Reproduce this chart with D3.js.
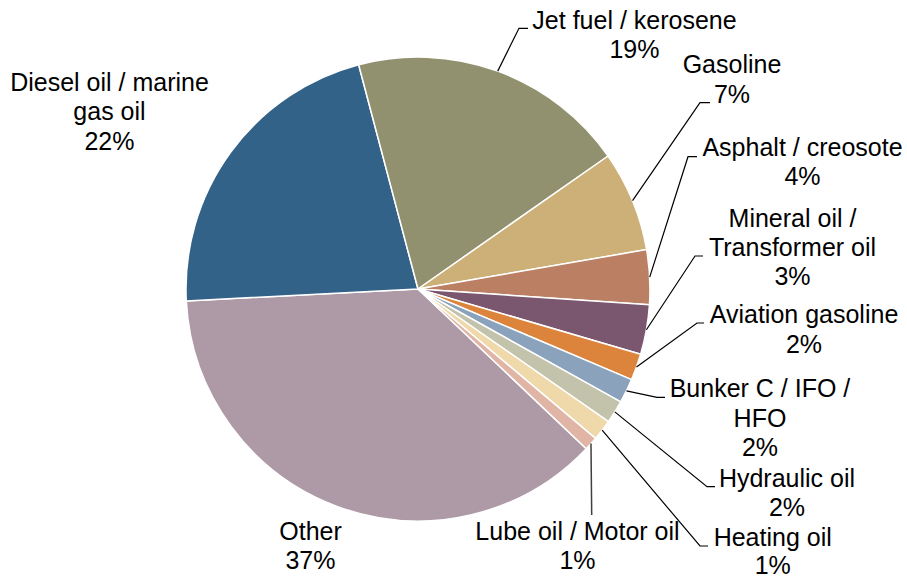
<!DOCTYPE html>
<html>
<head>
<meta charset="utf-8">
<script src="https://cdn.jsdelivr.net/npm/d3@7"></script>
<style>
  body { margin: 0; background: #fff; }
  text { font-family: "Liberation Sans", Arial, sans-serif; font-size: 25px; fill: #000; }
</style>
</head>
<body>
<div id="vis-1"></div>
<script>
// data, in the order the slices run clockwise
const categories = [
  "Other", "Diesel oil / marine gas oil", "Jet fuel / kerosene", "Gasoline",
  "Asphalt / creosote", "Mineral oil / Transformer oil", "Aviation gasoline",
  "Bunker C / IFO / HFO", "Hydraulic oil", "Heating oil", "Lube oil / Motor oil"
];
const shares = [37.1, 21.7, 19.4, 7.0, 3.8, 3.45, 1.85, 1.7, 1.6, 1.45, 0.95];
const labelLines = [
  ["Other"], ["Diesel oil / marine", "gas oil"], ["Jet fuel / kerosene"], ["Gasoline"],
  ["Asphalt / creosote"], ["Mineral oil /", "Transformer oil"], ["Aviation gasoline"],
  ["Bunker C / IFO /", "HFO"], ["Hydraulic oil"], ["Heating oil"], ["Lube oil / Motor oil"]
];
const colores = ["#ae9aa7", "#336288", "#919170", "#cdaf78", "#bb8064", "#7a566f",
  "#dd843c", "#8aa2bb", "#c3c2aa", "#efd8aa", "#e0b5a6"];

// where each label sits: centre x, first baseline y, line gap, and the leader's end (null = none)
const labelPos = [
  { x: 310.5, y: 540, gap: 29.3, lead: null },
  { x: 109.5, y: 91, gap: 29.3, lead: null },
  { x: 634.5, y: 29, gap: 29.3, lead: { x: 528, y: 28.3, len: 9 } },
  { x: 732, y: 73.3, gap: 29.3, lead: { x: 710, y: 102.7, len: 10 } },
  { x: 802.5, y: 156, gap: 29.3, lead: { x: 697, y: 156.7, len: 9 } },
  { x: 792.5, y: 226.7, gap: 29.3, lead: { x: 703, y: 256, len: 8 } },
  { x: 804, y: 323.3, gap: 29.3, lead: { x: 704, y: 323, len: 7 } },
  { x: 760, y: 397.3, gap: 29.3, lead: { x: 665, y: 397.3, len: 8 } },
  { x: 787, y: 486.7, gap: 29.3, lead: { x: 715, y: 486.7, len: 8 } },
  { x: 772.7, y: 545.5, gap: 28, lead: { x: 708, y: 546, len: 8 } },
  { x: 577.5, y: 540, gap: 29.3, lead: { x: 591.7, y: 515, len: 0 } }
];

const WIDTH1 = 907;
const HEIGHT1 = 579;
const CX = 418;
const CY = 289;
const RADIO = 232;

const SVG1 = d3.select("#vis-1").append("svg")
  .attr("width", WIDTH1).attr("height", HEIGHT1);

const datos = categories.map((c, i) => ({ cat: c, valor: shares[i], i: i }));
const total = d3.sum(shares);

const inicio = 133.5 * Math.PI / 180;
const pie = d3.pie().sort(null).value((d) => d.valor)
  .startAngle(inicio).endAngle(inicio + 2 * Math.PI);
const arcos = pie(datos);

const arco = d3.arc().innerRadius(0).outerRadius(RADIO);

const grafico1 = SVG1.append("g")
  .attr("transform", `translate(${CX} ${CY})`);

grafico1.selectAll("path")
  .data(arcos)
  .join("path")
  .attr("d", arco)
  .attr("fill", (d) => colores[d.data.i])
  .attr("stroke", "#fff")
  .attr("stroke-width", 1.5)
  .attr("stroke-linejoin", "round");

// lineas guia
arcos.forEach((d) => {
  const p = labelPos[d.data.i];
  if (!p.lead) return;
  const a = (d.startAngle + d.endAngle) / 2;
  const x0 = CX + RADIO * Math.sin(a);
  const y0 = CY - RADIO * Math.cos(a);
  const pts = [[x0, y0], [p.lead.x - p.lead.len, p.lead.y], [p.lead.x, p.lead.y]];
  SVG1.append("path")
    .attr("d", d3.line()(pts))
    .attr("fill", "none")
    .attr("stroke", p.lead.len === 0 ? "#404040" : "#000")
    .attr("stroke-width", p.lead.len === 0 ? 1.5 : 1.2);
});

// etiquetas
const fmt = (v) => Math.round(v / total * 100) + "%";
arcos.forEach((d) => {
  const p = labelPos[d.data.i];
  const lineas = labelLines[d.data.i].concat([fmt(d.data.valor)]);
  const t = SVG1.append("text")
    .attr("text-anchor", "middle")
    .attr("x", p.x)
    .attr("y", p.y);
  lineas.forEach((l, k) => {
    t.append("tspan").attr("x", p.x).attr("dy", k === 0 ? 0 : p.gap).text(l);
  });
});
</script>
</body>
</html>
